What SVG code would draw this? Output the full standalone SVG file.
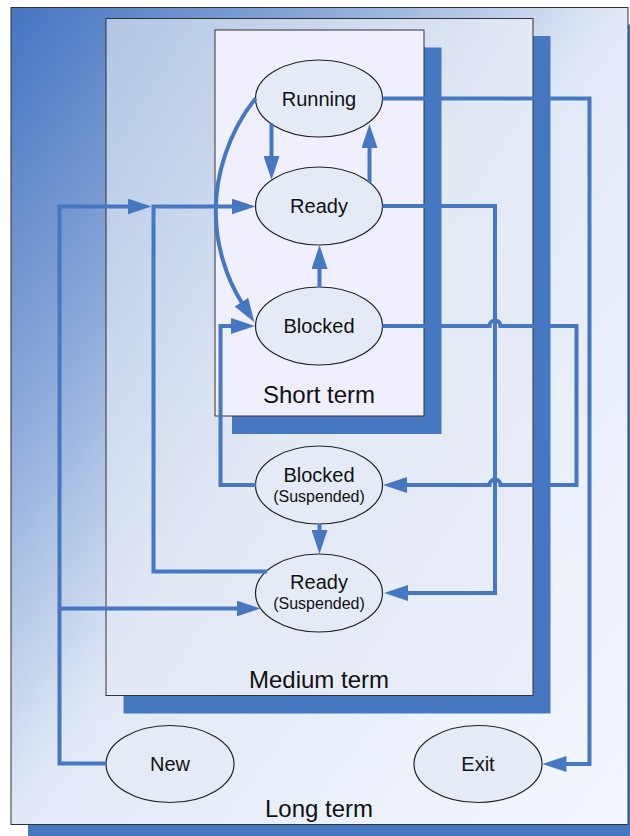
<svg xmlns="http://www.w3.org/2000/svg" width="630" height="836" viewBox="0 0 630 836">
  <defs>
    <linearGradient id="gLong" x1="0" y1="0" x2="1" y2="1">
      <stop offset="0" stop-color="#4574c1"/>
      <stop offset="0.25" stop-color="#8aa8d9"/>
      <stop offset="0.5" stop-color="#e2eaf7"/>
      <stop offset="1" stop-color="#f4f7fd"/>
    </linearGradient>
    <linearGradient id="gMedium" x1="0" y1="0" x2="1" y2="1">
      <stop offset="0" stop-color="#b2c6e5"/>
      <stop offset="0.5" stop-color="#e3e9f5"/>
      <stop offset="1" stop-color="#e9eef8"/>
    </linearGradient>
    <marker id="arrow" markerUnits="userSpaceOnUse" markerWidth="24" markerHeight="16" viewBox="0 0 24 16" refX="1" refY="8" orient="auto">
      <path d="M0,0 L24,8 L0,16 z" fill="#4677c1"/>
    </marker>
    <style>
      .shadow { fill: #4677c1; }
      .box { stroke: #333; stroke-width: 1; }
      .state { fill: #e5ebf6; stroke: #222; stroke-width: 1.2; }
      .lbl { font-family: "Liberation Sans", Arial, sans-serif; font-size: 20px; fill: #111; text-anchor: middle; }
      .sub { font-size: 16px; }
      .term { font-family: "Liberation Sans", Arial, sans-serif; font-size: 24px; fill: #111; text-anchor: middle; }
      .conn { fill: none; stroke: #4677c1; stroke-width: 4; stroke-linejoin: miter; }
      .arr { marker-end: url(#arrow); }
    </style>
  </defs>

  <!-- scheduling levels, outermost first -->
  <g id="long-term">
    <rect class="shadow" x="28" y="24.5" width="617" height="817"/>
    <rect class="box" x="11" y="7.5" width="617" height="817" fill="url(#gLong)"/>
    <text class="term" x="319" y="817">Long term</text>
  </g>
  <g id="medium-term">
    <rect class="shadow" x="123.5" y="36" width="427" height="677.5"/>
    <rect class="box" x="106" y="18.5" width="427" height="677" fill="url(#gMedium)"/>
    <text class="term" x="319" y="688">Medium term</text>
  </g>
  <g id="short-term">
    <rect class="shadow" x="232" y="47.5" width="209.5" height="386.5"/>
    <rect class="box" x="215" y="30" width="209" height="386" fill="#efeffd"/>
    <text class="term" x="319" y="403">Short term</text>
  </g>

  <!-- process states -->
  <g id="running">
    <ellipse class="state" cx="319" cy="98.5" rx="63.5" ry="38.5"/>
    <text class="lbl" x="319" y="105.5">Running</text>
  </g>
  <g id="ready">
    <ellipse class="state" cx="319" cy="206" rx="63.5" ry="39"/>
    <text class="lbl" x="319" y="213">Ready</text>
  </g>
  <g id="blocked">
    <ellipse class="state" cx="319" cy="326" rx="63.5" ry="39"/>
    <text class="lbl" x="319" y="333">Blocked</text>
  </g>
  <g id="blocked-suspended">
    <ellipse class="state" cx="319" cy="485" rx="63.5" ry="39"/>
    <text class="lbl" x="319" y="482">Blocked</text>
    <text class="lbl sub" x="319" y="502">(Suspended)</text>
  </g>
  <g id="ready-suspended">
    <ellipse class="state" cx="319" cy="593" rx="63.5" ry="39"/>
    <text class="lbl" x="319" y="589">Ready</text>
    <text class="lbl sub" x="319" y="609">(Suspended)</text>
  </g>
  <g id="new">
    <ellipse class="state" cx="170" cy="764" rx="64" ry="38.5"/>
    <text class="lbl" x="170" y="771">New</text>
  </g>
  <g id="exit">
    <ellipse class="state" cx="478" cy="764" rx="64" ry="38.5"/>
    <text class="lbl" x="478" y="771">Exit</text>
  </g>

  <!-- transitions -->
  <g id="connectors">
    <path class="conn arr" d="M271.5,123.5 V157"/>
    <path class="conn arr" d="M369.5,182.5 V147"/>
    <path class="conn arr" d="M319.5,287 V268"/>
    <path class="conn arr" d="M255.7,98.3 C230,130 214,175 216,217 C216.5,245 226,278 242,303"/>
    <path class="conn arr" d="M106,763.5 H59.5 V206.5 H128.5"/>
    <path class="conn arr" d="M59.5,608.5 H237.5"/>
    <path class="conn arr" d="M267,571.5 H153.5 V206.5 H232.5"/>
    <path class="conn arr" d="M256,485 H220.5 V326 H232"/>
    <path class="conn arr" d="M382.5,326 H489.5 A5.5,5.5 0 0 1 500.5,326 H576.5 V485 H500.5 A5.5,5.5 0 0 0 489.5,485 H406"/>
    <path class="conn arr" d="M382.5,206 H495 V593 H407"/>
    <path class="conn arr" d="M382.5,98.5 H589.5 V764 H565.5"/>
    <path class="conn arr" d="M319.5,524 V531"/>
  </g>
</svg>
